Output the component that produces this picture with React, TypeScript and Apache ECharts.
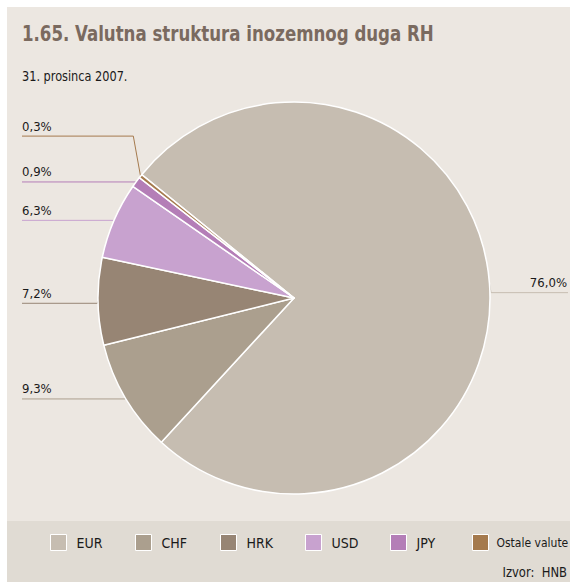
import React, { useEffect, useRef } from "react";
import * as echarts from "echarts";

const categories = ["EUR", "CHF", "HRK", "USD", "JPY", "Ostale valute"];
const shares = [76.0, 9.3, 7.2, 6.3, 0.9, 0.3];
const colors = ["#c6bdb1", "#ab9f8e", "#978574", "#c8a2cf", "#b47eb7", "#a57a4d"];
const titleText = "1.65. Valutna struktura inozemnog duga RH";
const subtitleText = "31. prosinca 2007.";
const sourceText = "Izvor:  HNB";

// label-line vertical adjustments (px) relative to the automatic placement
const labelShift = [9, 1, 2, 0, 0, -40];
// per-item distance of label to the chart edge
const labelEdge = [3, 15, 15, 15, 15, 15];

const FONT = "'Liberation Sans Narrow', 'DejaVu Sans Condensed', 'Arial Narrow', sans-serif";
const CENTER = [287, 291];
const RADIUS = 196;
const WIDTH = 563;
const TEXT_ABOVE = 10;

export default function App() {
  const ref = useRef<HTMLDivElement>(null);
  useEffect(() => {
    if (!ref.current) return;
    const chart = echarts.init(ref.current, undefined, { renderer: "svg" });
    const data = categories.map((name, i) => ({
      name,
      value: shares[i],
      itemStyle: { color: colors[i] },
      label: { edgeDistance: labelEdge[i] },
    }));
    const last = categories.length - 1;
    const legendCommon = {
      top: 527,
      padding: 0,
      itemWidth: 16,
      itemHeight: 16,
      icon: "rect",
      itemStyle: { borderColor: "#ffffff", borderWidth: 1 },
      textStyle: {
        fontFamily: FONT,
        fontSize: 14,
        color: "#1a1a1a",
        padding: [0, 0, 0, 5],
      },
    };
    chart.setOption({
      animation: false,
      backgroundColor: "#ece7e1",
      textStyle: { fontFamily: FONT },
      graphic: [
        {
          type: "rect",
          z: 0,
          silent: true,
          shape: { x: 0, y: 514, width: WIDTH, height: 61 },
          style: { fill: "#e0dbd3" },
        },
        {
          type: "text",
          x: 15,
          y: 27,
          scaleX: 0.88,
          style: {
            text: titleText,
            fontFamily: FONT,
            fontSize: 21,
            fontWeight: "bold",
            fill: "#7a6a5f",
            verticalAlign: "middle",
          },
        },
        {
          type: "text",
          x: 15,
          y: 69,
          scaleX: 0.9,
          style: {
            text: subtitleText,
            fontFamily: FONT,
            fontSize: 14,
            fill: "#1a1a1a",
            verticalAlign: "middle",
          },
        },
        {
          type: "text",
          x: 560,
          y: 565,
          scaleX: 0.92,
          style: {
            text: sourceText,
            fontFamily: FONT,
            fontSize: 14,
            fill: "#1a1a1a",
            align: "right",
            verticalAlign: "middle",
          },
        },
      ],
      legend: categories.map((c, i) => ({
        ...legendCommon,
        left: 43 + i * 85 - (i === last ? 3 : 0),
        data: [
          i === last
            ? { name: c, textStyle: { fontSize: 12, padding: [0, 0, 0, 3] } }
            : c,
        ],
      })),
      series: [
        {
          type: "pie",
          center: CENTER,
          radius: RADIUS,
          startAngle: 141,
          clockwise: true,
          avoidLabelOverlap: false,
          data,
          itemStyle: { borderColor: "#ffffff", borderWidth: 1.5 },
          label: {
            show: true,
            position: "outside",
            alignTo: "edge",
            fontFamily: FONT,
            fontSize: 13,
            lineHeight: 16,
            color: "#1a1a1a",
            padding: [0, 0, 20, 0],
            formatter: (p: any) => p.value.toFixed(1).replace(".", ",") + "%",
          },
          labelLine: { show: true, length: 0, length2: 5, lineStyle: { width: 1 } },
          labelLayout: (params: any) => {
            const pts = params.labelLinePoints;
            if (!pts) return {};
            const i = params.dataIndex;
            const p0 = pts[0];
            const isLeft = p0[0] < CENTER[0];
            const dy = labelShift[i];
            const y = pts[2][1] + dy;
            const kinkX = p0[0] + (isLeft ? -1 : 1) * Math.abs(dy) * 0.18;
            const endX = isLeft ? labelEdge[i] : WIDTH - 2;
            return {
              dy: dy - TEXT_ABOVE,
              labelLinePoints: [
                [p0[0], p0[1]],
                [kinkX, y],
                [endX, y],
              ],
            };
          },
        },
      ],
    });
    return () => chart.dispose();
  }, []);
  return (
    <div
      ref={ref}
      style={{ position: "fixed", left: 7, top: 7, width: WIDTH, height: 575 }}
    />
  );
}
